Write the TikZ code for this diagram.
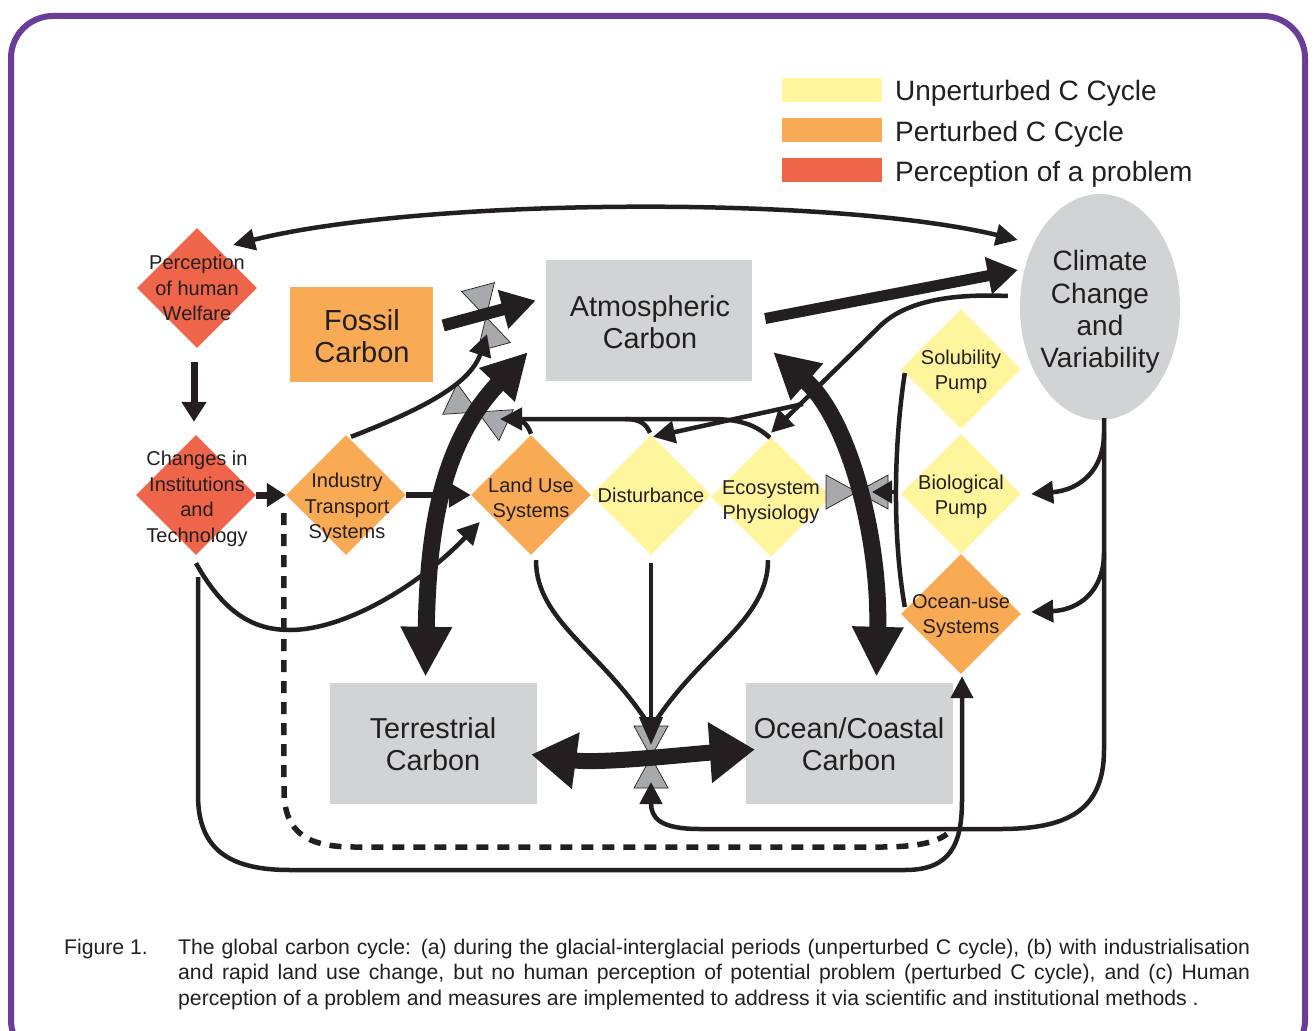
\documentclass[tikz,border=0pt]{standalone}
\usepackage{fontspec}
\setmainfont{Liberation Sans}
\usetikzlibrary{arrows.meta,shapes.geometric,calc}

\definecolor{ink}{HTML}{231F20}
\definecolor{framepurple}{HTML}{6A3D9A}
\definecolor{unpert}{HTML}{FFF59D}
\definecolor{pert}{HTML}{F9AA54}
\definecolor{percep}{HTML}{EF6549}
\definecolor{poolgray}{HTML}{D1D3D4}
\definecolor{valvegray}{HTML}{A7A9AC}

\tikzset{
  dia/.style={diamond, aspect=1, minimum width=120pt, minimum height=120pt, inner sep=0pt, draw=none},
  dtext/.style={align=center, inner sep=0pt, text=ink, font=\fontsize{20}{25.5}\selectfont},
  poolbox/.style={fill=poolgray, inner sep=0pt, draw=none},
  pooltext/.style={align=center, inner sep=0pt, text=ink, font=\fontsize{28.8}{32.4}\selectfont},
  legtext/.style={anchor=base west, inner sep=0pt, text=ink, font=\fontsize{28}{32}\selectfont},
  legbox/.style={minimum width=100pt, minimum height=24pt, inner sep=0pt, draw=none},
  captext/.style={anchor=north west, inner sep=0pt, text=ink, font=\fontsize{21.2}{25.5}\selectfont},
  conn/.style={draw=ink, line width=4.5pt},
  headS/.style={-{Triangle[length=22pt,width=22pt]}},
  valve/.pic={\draw[fill=valvegray, draw=ink, line width=0.7pt, line join=miter]
     (0,0)--(-17,31)--(17,31)--cycle (0,0)--(-17,-31)--(17,-31)--cycle;},
}

\begin{document}
\begin{tikzpicture}[x=1pt,y=-1pt]
\useasboundingbox (0,0) rectangle (1316,1030);
\fill[white] (0,0) rectangle (1316,1030);
\begin{scope}
  \clip (0,0) rectangle (1316,1030);
  \draw[framepurple, line width=6pt, rounded corners=42pt] (11,16) rectangle (1305,1062);
\end{scope}

% ---------- legend ----------
\node[legbox, fill=unpert] (lgU) at (832,90) {};
\node[legtext] (lgUt) at (895,101) {Unperturbed C Cycle};
\node[legbox, fill=pert] (lgP) at (832,130) {};
\node[legtext] (lgPt) at (895,141) {Perturbed C Cycle};
\node[legbox, fill=percep] (lgR) at (832,170) {};
\node[legtext] (lgRt) at (895,181) {Perception of a problem};

% ---------- diamonds ----------
\node[dia, fill=percep] (perc) at (197,288) {};
\node[dia, fill=percep] (chg) at (196,495) {};
\node[dia, fill=pert] (ind) at (346,495) {};
\node[dia, fill=pert] (lus) at (531,495) {};
\node[dia, fill=unpert] (dist) at (651,495) {};
\node[dia, fill=unpert] (eco) at (771,497) {};
\node[dia, fill=unpert] (sol) at (961,369) {};
\node[dia, fill=unpert] (bio) at (961,494) {};
\node[dia, fill=pert] (ocu) at (961,614) {};

% ---------- carbon pools ----------
\node[poolbox, fill=pert, minimum width=143pt, minimum height=95pt] (fos) at (361.5,334.5) {};
\node[poolbox, minimum width=206pt, minimum height=121pt] (atm) at (649,320.5) {};
\node[poolbox, minimum width=207pt, minimum height=121pt] (ter) at (433.5,743.5) {};
\node[poolbox, minimum width=207pt, minimum height=121pt] (oce) at (849.5,743.5) {};
\node[ellipse, fill=poolgray, minimum width=160pt, minimum height=226pt, inner sep=0pt] (clim) at (1100,307) {};

% ---------- control valves ----------
\coordinate (vA) at (486,317);
\coordinate (vB) at (478,412);
\coordinate (vC) at (857,492);
\coordinate (vD) at (651,757);
\pic[rotate=15] at (vA) {valve};
\pic[rotate=65] at (vB) {valve};
\pic[rotate=90] at (vC) {valve};
\pic at (vD) {valve};

% ---------- thin connectors ----------
% welfare <-> climate
\draw[conn, {Triangle[length=22pt,width=21pt]}-{Triangle[length=22pt,width=21pt]}]
  ($(perc.center)+(36,-43)$) .. controls (420,198) and (830,195) .. ($(clim.west)+(-2,-67)$);
% welfare -> institutions
\draw[conn, line width=7pt, -{Triangle[length=20pt,width=24pt]}]
  ($(perc.south)+(-3,14)$) -- ($(chg.north)+(-2,-13)$);
% institutions -> industry
\draw[conn, line width=7pt, -{Triangle[length=19pt,width=23pt]}] (chg.east) -- (ind.west);
% industry -> land use
\draw[conn, line width=6pt, -{Triangle[length=22pt,width=24pt]}] (ind.east) -- (lus.west);
% industry -> fossil valve
\draw[conn, headS] ($(ind.north)+(5,2)$) .. controls (420,410) and (470,385) .. ($(vA)+(1,17)$);

% climate -> physiology, with a branch to disturbance
\coordinate (split) at (803,404);
\draw[conn, headS] ($(clim.west)+(-12,-11)$) .. controls (940,293) and (900,305) .. (878,328)
  -- ($(eco.north)+(0,-4)$);
\draw[conn, headS] (split) -- ($(dist.north)+(2,2)$);

% physiology, disturbance and land use -> land-use valve
\draw[conn, headS] ($(eco.north)+(-1,1)$) .. controls (755,424) and (738,419) .. (710,419) -- ($(vB)+(22,7)$);
\draw[conn] ($(dist.north)+(-1,-2)$) .. controls (646,424) and (640,419) .. (625,419);
\draw[conn] ($(lus.north)+(0,-1)$) .. controls (528,426) and (524,420) .. (515,419);

% climate trunk down to bottom valve, with branches to the pumps
\coordinate (trunkA) at (1104,433);
\coordinate (trunkB) at (1104,553);
\draw[conn, headS] ($(clim.south)+(4,-2)$) -- (1104,750) .. controls (1104,812) and (1065,829) .. (1000,829)
  -- (700,829) .. controls (660,829) and (651,818) .. ($(vD)+(0,25)$);
\draw[conn, headS] (trunkA) .. controls (1104,470) and (1080,490) .. ($(bio.east)+(10,0)$);
\draw[conn, headS] (trunkB) .. controls (1104,590) and (1080,610) .. ($(ocu.east)+(10,-2)$);

% pump bar with arrow into the ocean valve
\draw[conn] ($(sol.west)+(4,4)$) .. controls (893,450) and (893,540) .. ($(ocu.west)+(4,-7)$);
\draw[conn, -{Triangle[length=20pt,width=22pt]}] (896,492) -- ($(vC)+(15,0)$);

% institutions -> land use
\draw[conn, headS] ($(chg.south)+(0,8)$) .. controls (225,615) and (255,630) .. (290,630)
  .. controls (345,630) and (420,585) .. ($(lus.west)+(9,27)$);
% institutions -> ocean-use
\draw[conn, headS] ($(chg.south)+(2,22)$) -- (198,795) .. controls (198,850) and (230,870) .. (290,870)
  -- (905,870) .. controls (950,870) and (962,845) .. (962,800) -- ($(ocu.south)+(1,2)$);
% industry -> ocean-use (dashed)
\draw[conn, line width=5.5pt, dash pattern=on 12pt off 9pt]
  ($(ind.west)+(-2,18)$) -- (284,790) .. controls (284,835) and (310,847) .. (355,847)
  -- (880,847) .. controls (915,847) and (935,843) .. (947,834);

% land use, disturbance, physiology -> bottom valve
\draw[conn] ($(lus.south)+(5,5)$) .. controls (536,620) and (600,650) .. (647,722);
\draw[conn] ($(eco.south)+(-3,3)$) .. controls (768,620) and (702,650) .. (655,722);
\draw[conn, -{Triangle[length=28pt,width=23pt]}] ($(dist.south)+(0,8)$) -- ($(vD)+(0,-12)$);

% ---------- thick carbon fluxes ----------
\draw[conn, line width=12pt, -{Triangle[length=34pt,width=38pt]}]
  ($(fos.east)+(10,-9)$) -- ($(atm.west)+(-10,-20)$);
\draw[conn, line width=11pt, -{Triangle[length=30pt,width=36pt]}]
  ($(atm.east)+(13,-2)$) -- ($(clim.west)+(-2,-37)$);
\draw[conn, line width=17pt, {Triangle[length=50pt,width=48pt]}-{Triangle[length=45pt,width=46pt]}]
  ($(ter.north)+(-8,-6)$) .. controls (428,520) and (445,440) .. ($(atm.south west)+(-18,-29)$);
\draw[conn, line width=17pt, {Triangle[length=45pt,width=46pt]}-{Triangle[length=50pt,width=48pt]}]
  ($(atm.south east)+(21,-29)$) .. controls (850,420) and (880,540) .. ($(oce.north)+(27,-6)$);
\draw[conn, line width=16pt, {Triangle[length=45pt,width=54pt]}-{Triangle[length=45pt,width=58pt]}]
  ($(ter.east)+(-6,11)$) .. controls (600,764) and (690,754) .. ($(oce.west)+(9,6)$);

% ---------- labels ----------
\node[dtext] (percT) at (197,288) {Perception\\of human\\Welfare};
\node[dtext] (chgT) at (197,499) {Changes in\\Institutions\\and\\Technology};
\node[dtext] (indT) at (347,508) {Industry\\Transport\\Systems};
\node[dtext] (lusT) at (531,500) {Land Use\\Systems};
\node[dtext] (distT) at (651,495) {Disturbance};
\node[dtext] (ecoT) at (771,502) {Ecosystem\\Physiology};
\node[dtext] (solT) at (961,372) {Solubility\\Pump};
\node[dtext] (bioT) at (961,497) {Biological\\Pump};
\node[dtext] (ocuT) at (961,616) {Ocean-use\\Systems};
\node[pooltext, font=\fontsize{29}{31.5}\selectfont] (fosT) at (362,336) {Fossil\\Carbon};
\node[pooltext] (atmT) at (650,322) {Atmospheric\\Carbon};
\node[pooltext] (terT) at (433,744) {Terrestrial\\Carbon};
\node[pooltext] (oceT) at (849,744) {Ocean/Coastal\\Carbon};
\node[pooltext, font=\fontsize{28}{32.3}\selectfont] (climT) at (1100,312) {Climate\\Change\\and\\Variability};

% ---------- caption ----------
\node[captext] (fignum) at (64,936) {\strut Figure 1.};
\node[captext, text width=1072pt, align=justify] (caption) at (178,936)
  {\strut The global carbon cycle: (a) during the glacial-interglacial periods (unperturbed C cycle), (b) with industrialisation\linebreak
   and rapid land use change, but no human perception of potential problem (perturbed C cycle), and (c) Human\linebreak
   perception of a problem and measures are implemented to address it via scientific and institutional methods .};
\end{tikzpicture}
\end{document}
